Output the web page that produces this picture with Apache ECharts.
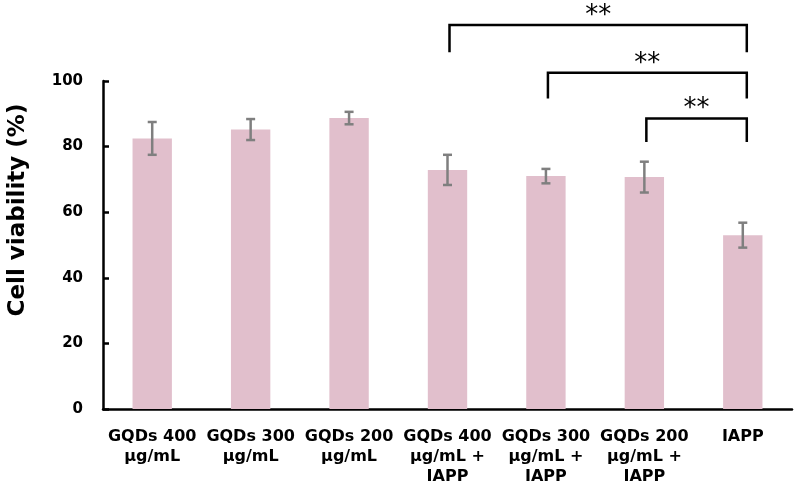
<!DOCTYPE html>
<html>
<head>
<meta charset="utf-8">
<script src="https://cdn.jsdelivr.net/npm/echarts@6/dist/echarts.min.js"></script>
<style>
  html, body { margin: 0; padding: 0; background: #fff; }
  #chart { width: 800px; height: 492px; }
</style>
</head>
<body>
<div id="chart"></div>
<script>
// ---- data ----
var categories = [
  'GQDs 400\nμg/mL',
  'GQDs 300\nμg/mL',
  'GQDs 200\nμg/mL',
  'GQDs 400\nμg/mL +\nIAPP',
  'GQDs 300\nμg/mL +\nIAPP',
  'GQDs 200\nμg/mL +\nIAPP',
  'IAPP'
];
var viability = [82.5, 85.2, 88.7, 72.9, 71.0, 70.7, 53.0];
var errors = [5.0, 3.2, 1.9, 4.6, 2.2, 4.7, 3.8];
var yTicks = { min: 0, max: 100, interval: 20 };
var bracketFrom = [3, 4, 5];
var bracketTo = [6, 6, 6];
var bracketTop = [117.1, 102.5, 88.6];
var bracketBottom = [108.8, 94.7, 81.4];
var bracketLabels = ['**', '**', '**'];
var yTitle = 'Cell viability (%)';

// ---- chart ----
var chart = echarts.init(document.getElementById('chart'));
var FONT = 'DejaVu Sans';

var errData = viability.map(function (v, i) { return [i, v - errors[i], v + errors[i]]; });
var brData = bracketFrom.map(function (f, i) { return [f, bracketTo[i], bracketTop[i], bracketBottom[i], bracketLabels[i]]; });

var option = {
  animation: false,
  backgroundColor: '#ffffff',
  grid: { left: 103, right: 8, top: 81, bottom: 83, containLabel: false },
  xAxis: {
    type: 'category',
    data: categories,
    axisLine: { lineStyle: { color: '#000', width: 2.5 } },
    axisTick: { inside: true, length: 6, lineStyle: { color: '#000', width: 2.5 } },
    axisLabel: {
      color: '#000', fontFamily: FONT, fontWeight: 'bold', fontSize: 16,
      lineHeight: 20, margin: 18, interval: 0
    }
  },
  yAxis: {
    type: 'value',
    min: yTicks.min, max: yTicks.max, interval: yTicks.interval,
    splitLine: { show: false },
    axisLine: { show: true, lineStyle: { color: '#000', width: 2.5 } },
    axisTick: { show: true, inside: true, length: 6, lineStyle: { color: '#000', width: 2.5 } },
    axisLabel: { color: '#000', fontFamily: FONT, fontWeight: 'bold', fontSize: 15, margin: 20 }
  },
  graphic: [{
    type: 'text',
    x: 7, y: 210,
    rotation: Math.PI / 2,
    style: {
      text: yTitle, fill: '#000', font: 'bold 23px "DejaVu Sans"',
      align: 'center', verticalAlign: 'top'
    }
  }],
  series: [
    {
      type: 'bar',
      data: viability,
      barWidth: '40%',
      itemStyle: { color: '#e1bfcc' },
      z: 2
    },
    {
      type: 'custom',
      data: errData,
      encode: { x: 0, y: [1, 2] },
      z: 3,
      renderItem: function (params, api) {
        var x = api.value(0);
        var lo = api.coord([x, api.value(1)]);
        var hi = api.coord([x, api.value(2)]);
        var hw = 4.5;
        var st = { stroke: '#7f7f7f', lineWidth: 2.5 };
        return {
          type: 'group',
          children: [
            { type: 'line', shape: { x1: hi[0], y1: hi[1], x2: lo[0], y2: lo[1] }, style: st },
            { type: 'line', shape: { x1: hi[0] - hw, y1: hi[1], x2: hi[0] + hw, y2: hi[1] }, style: st },
            { type: 'line', shape: { x1: lo[0] - hw, y1: lo[1], x2: lo[0] + hw, y2: lo[1] }, style: st }
          ]
        };
      }
    },
    {
      type: 'custom',
      data: brData,
      clip: false,
      encode: { x: [0, 1], y: [2, 3] },
      z: 4,
      renderItem: function (params, api) {
        var a = api.coord([api.value(0), api.value(2)]);
        var b = api.coord([api.value(1), api.value(2)]);
        var ab = api.coord([api.value(0), api.value(3)]);
        var x1 = a[0] + 2, x2 = b[0] + 4;
        return {
          type: 'group',
          children: [
            {
              type: 'polyline',
              shape: { points: [[x1, ab[1]], [x1, a[1]], [x2, a[1]], [x2, ab[1]]] },
              style: { stroke: '#000', lineWidth: 2.5, fill: null }
            },
            {
              type: 'text',
              x: (x1 + x2) / 2, y: a[1] - 9,
              style: {
                text: brData[params.dataIndex][4], fill: '#000',
                font: '26px "DejaVu Sans"', align: 'center', verticalAlign: 'middle'
              }
            }
          ]
        };
      }
    }
  ]
};
chart.setOption(option);
</script>
</body>
</html>
